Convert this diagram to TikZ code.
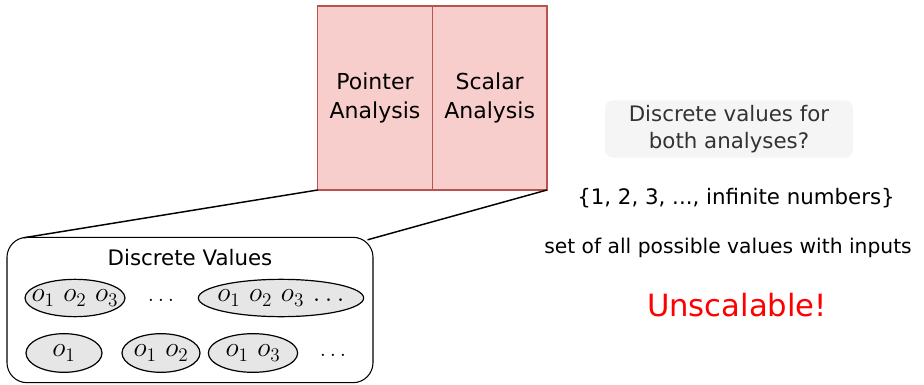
\documentclass[tikz,border=0pt]{standalone}
\usepackage{fontspec}
\setmainfont{DejaVu Sans}
\usetikzlibrary{positioning,calc,shapes.geometric}
\definecolor{anaFill}{HTML}{F8CECC}
\definecolor{anaLine}{HTML}{B85450}
\definecolor{setFill}{HTML}{E6E6E6}
\definecolor{noteFill}{HTML}{F5F5F5}
\definecolor{noteText}{HTML}{333333}
% set contents may run over the ellipse border
\newcommand{\oset}[1]{\makebox[0pt]{#1}}

\begin{document}
\begin{tikzpicture}[x=0.75pt,y=-0.75pt,
    ana/.style={draw=anaLine,fill=anaFill,line width=1.1pt,outer sep=0pt,minimum width=86pt,minimum height=138pt,align=center,font=\fontsize{16.5}{22}\selectfont},
    valbox/.style={draw=black,fill=white,line width=0.8pt,rounded corners=15pt,minimum width=274.5pt,minimum height=109pt},
    vset/.style={ellipse,draw=black,fill=setFill,line width=0.9pt,inner sep=0pt,minimum height=28pt,font=\fontsize{20.5}{22}\selectfont},
    note/.style={fill=noteFill,rounded corners=6pt,text=noteText,minimum width=186pt,minimum height=43pt,align=center,font=\fontsize{16}{20}\selectfont},
    txt/.style={font=\fontsize{16}{20}\selectfont},
    zoomln/.style={draw=black,line width=1.1pt}]
  \useasboundingbox (0,0) rectangle (924,385);

  % the two analyses
  \node[ana] (pa) at (375,98) {Pointer\\Analysis};
  \node[ana,right=0pt of pa] (sa) {Scalar\\Analysis};

  % zoomed-in view of the pointer values
  \node[valbox] (dv) at (190,310) {};
  \node[txt] (dvt) at (190,258) {Discrete Values};
  \node[vset,minimum width=75pt] (s123) at (75,298) {\oset{$o_1$ $o_2$ $o_3$}};
  \node[txt] (d1) at (161,300) {$\dots$};
  \node[vset,minimum width=124pt] (sall) at (281,298) {\oset{$o_1$ $o_2$ $o_3$ $\dots$}};
  \node[vset,minimum width=57pt,minimum height=29pt] (s1) at (64,353) {\oset{$o_1$}};
  \node[vset,minimum width=58.5pt,minimum height=29pt] (s12) at (161,353) {\oset{$o_1$ $o_2$}};
  \node[vset,minimum width=67pt,minimum height=29pt] (s13) at (253,353) {\oset{$o_1$ $o_3$}};
  \node[txt] (d2) at (333,355) {$\dots$};

  \draw[zoomln] (pa.south west) -- ($(dv.north west)+(17,1)$);
  \draw[zoomln] (sa.south east) -- ($(dv.north east)+(-6,3)$);

  % right-hand side remarks
  \node[note] (q) at (729,129) {Discrete values for\\both analyses?};
  \node[txt] (nums) at (736,198) {\{1, 2, 3, ..., infinite numbers\}};
  \node[font=\fontsize{15.2}{19}\selectfont] (all) at (728,248) {set of all possible values with inputs};
  \node[text=red,font=\fontsize{23}{27}\selectfont] (bad) at (737,305) {Unscalable!};
\end{tikzpicture}
\end{document}
